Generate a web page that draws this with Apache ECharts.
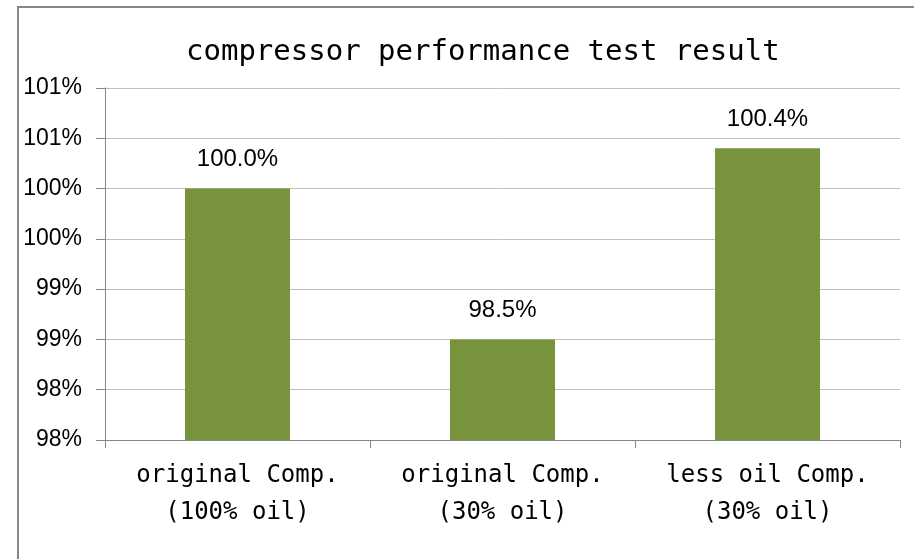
<!DOCTYPE html>
<html>
<head>
<meta charset="utf-8">
<script src="https://cdn.jsdelivr.net/npm/echarts@6/dist/echarts.min.js"></script>
<style>
  html, body { margin: 0; padding: 0; background: #fff; }
  #chart { width: 914px; height: 559px; }
</style>
</head>
<body>
<div id="chart"></div>
<script>
// 压缩机性能测试数据
var categories = ['original Comp.\n(100% oil)', 'original Comp.\n(30% oil)', 'less oil Comp.\n(30% oil)']
var performance = [100.0, 98.5, 100.4]
var yMin = 97.5
var yMax = 101
var yStep = 0.5

var myChart = echarts.init(document.getElementById('chart'))

var option = {
  animation: false,
  title: {
    text: 'compressor performance test result',
    left: 186,
    top: 38,
    padding: 0,
    textStyle: {
      fontFamily: 'DejaVu Sans Mono',
      fontSize: 29,
      fontWeight: 'normal',
      color: '#000'
    }
  },
  // 外框（左、上）
  graphic: [
    {
      type: 'rect',
      shape: { x: 18, y: 7, width: 1200, height: 1200 },
      style: { fill: 'none', stroke: '#878787', lineWidth: 2 },
      silent: true
    }
  ],
  grid: {
    left: 105,
    right: 14,
    top: 88,
    bottom: 119,
    containLabel: false
  },
  xAxis: {
    type: 'category',
    data: categories,
    axisLine: { lineStyle: { color: '#868686', width: 1 } },
    axisTick: { show: true, length: 8, lineStyle: { color: '#868686' } },
    axisLabel: {
      margin: 17,
      fontFamily: 'DejaVu Sans Mono',
      fontSize: 24,
      lineHeight: 37,
      color: '#000'
    }
  },
  yAxis: {
    type: 'value',
    min: yMin,
    max: yMax,
    interval: yStep,
    axisLine: { show: true, lineStyle: { color: '#868686', width: 1 } },
    axisTick: { show: true, length: 9, lineStyle: { color: '#868686' } },
    splitLine: { lineStyle: { color: '#BFBFBF', width: 1 } },
    axisLabel: {
      margin: 23,
      fontFamily: 'Liberation Sans',
      fontSize: 23,
      color: '#000',
      formatter: function (v) {
        return Math.round(v) + '%'
      }
    }
  },
  series: [
    {
      type: 'bar',
      data: performance,
      barWidth: 105,
      itemStyle: { color: '#77933C' },
      label: {
        show: true,
        position: 'top',
        distance: 17,
        fontFamily: 'Liberation Sans',
        fontSize: 24,
        color: '#000',
        formatter: function (p) {
          return p.value.toFixed(1) + '%'
        }
      }
    }
  ]
}

myChart.setOption(option)
</script>
</body>
</html>
